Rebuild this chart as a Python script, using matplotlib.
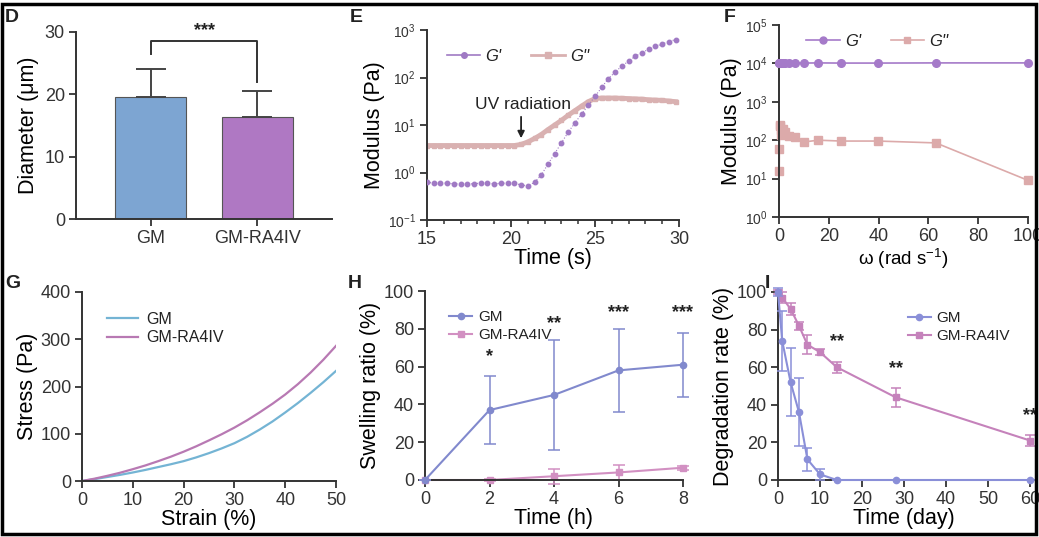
import matplotlib
matplotlib.use("Agg")
import matplotlib.pyplot as plt
from matplotlib.patches import Rectangle
from matplotlib.lines import Line2D
import numpy as np

plt.rcParams['font.family'] = ['Liberation Sans', 'DejaVu Sans']
plt.rcParams['axes.linewidth'] = 1.4
plt.rcParams['xtick.major.width'] = 1.3
plt.rcParams['ytick.major.width'] = 1.3
plt.rcParams['xtick.major.size'] = 5
plt.rcParams['ytick.major.size'] = 5
plt.rcParams['xtick.labelsize'] = 13
plt.rcParams['ytick.labelsize'] = 13
plt.rcParams['axes.edgecolor'] = '#333333'
plt.rcParams['xtick.color'] = '#333333'
plt.rcParams['ytick.color'] = '#333333'
plt.rcParams['text.color'] = '#222222'

# ---------------- data ----------------
# D
d_groups = ["GM", "GM-RA4IV"]
d_mean = [19.5, 16.4]
d_err = [4.6, 4.1]

# E
e_time = [15.0, 15.4, 15.8, 16.2, 16.6, 17.0, 17.4, 17.8, 18.2, 18.6, 19.0, 19.4,
          19.8, 20.2, 20.6, 21.0, 21.4, 21.8, 22.2, 22.6, 23.0, 23.4, 23.8, 24.2,
          24.6, 25.0, 25.4, 25.8, 26.2, 26.6, 27.0, 27.4, 27.8, 28.2, 28.6, 29.0,
          29.4, 29.8]
e_gp = [0.62, 0.60, 0.61, 0.59, 0.58, 0.57, 0.57, 0.58, 0.60, 0.59, 0.58, 0.59,
        0.60, 0.59, 0.55, 0.52, 0.62, 0.88, 1.5, 2.5, 4.2, 7.0, 11, 17,
        26, 40, 62, 95, 130, 175, 220, 280, 335, 395, 450, 510,
        570, 630]
e_gpp = [3.7, 3.7, 3.7, 3.7, 3.7, 3.7, 3.7, 3.7, 3.7, 3.7, 3.7, 3.7,
         3.7, 3.7, 3.9, 4.4, 5.2, 6.3, 8.0, 10, 12.5, 16, 20, 25,
         31, 36, 37, 37, 37, 36.5, 36, 35.5, 35, 34, 33.5, 33,
         32, 31]

# F
f_omega = [0.1, 0.16, 0.25, 0.4, 0.63, 1.0, 1.6, 2.5, 4.0, 6.3, 10, 15.8, 25, 39.8, 63, 100]
f_gp = [10200, 10100, 10300, 10200, 10100, 10200, 10300, 10200, 10200, 10300, 10200,
        10300, 10200, 10200, 10300, 10300]
f_gpp = [16, 60, 230, 250, 180, 140, 200, 160, 130, 120, 90, 100, 95, 95, 85, 9]

# G
g_strain = [0, 2.5, 5, 7.5, 10, 12.5, 15, 17.5, 20, 22.5, 25, 27.5, 30, 32.5, 35,
            37.5, 40, 42.5, 45, 47.5, 50]
g_gm = [0, 4, 8.5, 13, 18, 23.5, 29.5, 35.5, 42, 50, 59, 69, 80, 93.5, 109, 126,
        145, 165, 186.5, 209, 233]
g_ra = [0, 5, 11, 17.5, 25, 33, 42, 51.5, 62, 73.5, 86, 99, 113, 128.5, 145.5,
        163.5, 183, 205, 229.5, 256.5, 286]

# H
h_time = [0, 2, 4, 6, 8]
h_gm = [0, 37, 45, 58, 61]
h_gm_err = [0, 18, 29, 22, 17]
h_ra = [0, 0, 2, 4, 6.5]
h_ra_err = [0, 0.5, 4, 4, 1]
h_stars = ["*", "**", "***", "***"]
h_star_y = [61, 78, 84, 84]

# I
i_day = [0, 1, 3, 5, 7, 10, 14, 28, 60]
i_gm = [100, 74, 52, 36, 11, 3, 0, 0, 0]
i_gm_err = [2, 16, 18, 18, 6, 3, 0, 0, 0]
i_ra = [100, 97, 91, 82, 72, 68, 60, 44, 21]
i_ra_err = [1, 3, 3, 2, 5, 1.5, 3, 5, 3]
i_star_day = [14, 28, 60]
i_star_y = [69, 55, 30]

# ---------------- figure ----------------
W, H = 1039, 537
fig = plt.figure(figsize=(W / 100, H / 100), dpi=100)


def axbox(l, r, t, b):
    return fig.add_axes([l / W, 1 - b / H, (r - l) / W, (b - t) / H])


def style(ax):
    for s in ['top', 'right']:
        ax.spines[s].set_visible(False)
    ax.tick_params(direction='out', pad=3)


LABEL = 15.5
STAR = dict(fontsize=13, fontweight='bold')

# ---- D ----
axD = axbox(76, 332, 32, 219)
style(axD)
xs = np.arange(len(d_groups))
axD.bar(xs, d_mean, width=0.66, color=['#7DA5D2', '#AF78C3'], edgecolor='#555555', linewidth=0.8, zorder=2)
axD.errorbar(xs, d_mean, yerr=[[0, 0], d_err], fmt='none', ecolor='#444444', elinewidth=1.4,
             capsize=11, capthick=1.4, zorder=3)
axD.plot([0, 0, 1, 1], [26.5, 28.6, 28.6, 22.0], color='#333333', lw=1.4, clip_on=False)
axD.text(0.5, 28.9, "***", ha='center', va='bottom', **STAR)
axD.set_xlim(-0.7, 1.7)
axD.set_ylim(0, 30)
axD.set_yticks([0, 10, 20, 30])
axD.set_xticks(xs)
axD.set_xticklabels(d_groups)
axD.set_ylabel("Diameter (μm)", fontsize=LABEL, labelpad=4)

# ---- E ----
cE_gp, cE_gpp = '#A07AC4', '#D9B1B1'
axE = axbox(427, 679, 30, 220)
style(axE)
axE.set_yscale('log')
axE.plot(e_time, e_gpp, color=cE_gpp, lw=3.5, marker='s', ms=2.5, zorder=2)
axE.plot(e_time, e_gp, color=cE_gp, lw=0.8, ls=':', marker='o', ms=3.2, zorder=3)
axE.set_xlim(15, 30)
axE.set_ylim(0.1, 1000)
axE.set_xticks([15, 20, 25, 30])
axE.set_xticks(np.arange(15, 31, 1), minor=True)
axE.tick_params(axis='x', which='minor', length=3, width=1.1)
axE.yaxis.set_minor_locator(matplotlib.ticker.NullLocator())
axE.tick_params(axis='y', labelsize=10)
axE.set_xlabel("Time (s)", fontsize=LABEL, labelpad=0)
axE.set_ylabel("Modulus (Pa)", fontsize=LABEL, labelpad=2)
hE = [Line2D([], [], color=cE_gp, lw=1.2, marker='o', ms=4),
      Line2D([], [], color=cE_gpp, lw=2, marker='s', ms=5)]
axE.legend(hE, ["G'", "G''"], loc='upper left', ncol=2, frameon=False, prop={'style': 'italic', 'size': 12},
           bbox_to_anchor=(0.02, 0.98), handlelength=2.0, columnspacing=1.8, handletextpad=0.3)
axE.annotate("", xy=(20.6, 4.6), xytext=(20.6, 17), arrowprops=dict(arrowstyle='-|>', color='#222222', lw=1.3,
                                                                   mutation_scale=10))
axE.text(20.7, 19, "UV radiation", ha='center', va='bottom', fontsize=12.5)

# ---- F ----
cF_gp, cF_gpp = '#A57AC9', '#DCAAAA'
axF = axbox(779, 1028, 25, 217)
style(axF)
axF.set_yscale('log')
axF.plot(f_omega, f_gp, color=cF_gp, lw=1.2, marker='o', ms=5.5, zorder=3, clip_on=False)
axF.plot(f_omega, f_gpp, color=cF_gpp, lw=1.2, marker='s', ms=5.5, zorder=2, clip_on=False)
axF.set_xlim(0, 100)
axF.set_ylim(1, 1e5)
axF.set_xticks([0, 20, 40, 60, 80, 100])
axF.yaxis.set_minor_locator(matplotlib.ticker.NullLocator())
axF.tick_params(axis='y', labelsize=10)
axF.set_xlabel("ω (rad s$^{\\mathdefault{-1}}$)", fontsize=13.5, labelpad=1)
axF.set_ylabel("Modulus (Pa)", fontsize=LABEL, labelpad=2)
hF = [Line2D([], [], color=cF_gp, lw=1.2, marker='o', ms=5),
      Line2D([], [], color=cF_gpp, lw=1.2, marker='s', ms=5)]
axF.legend(hF, ["G'", "G''"], loc='upper left', ncol=2, frameon=False, prop={'style': 'italic', 'size': 12},
           bbox_to_anchor=(0.05, 1.03), handlelength=2.0, columnspacing=1.8, handletextpad=0.3)

# ---- G ----
axG = axbox(82, 336, 292, 481)
style(axG)
axG.plot(g_strain, g_gm, color='#74B4D4', lw=1.6, label="GM")
axG.plot(g_strain, g_ra, color='#B879B3', lw=1.6, label="GM-RA4IV")
axG.set_xlim(0, 50)
axG.set_ylim(0, 400)
axG.set_xticks([0, 10, 20, 30, 40, 50])
axG.set_yticks([0, 100, 200, 300, 400])
axG.set_xlabel("Strain (%)", fontsize=LABEL, labelpad=0)
axG.set_ylabel("Stress (Pa)", fontsize=LABEL, labelpad=2)
axG.legend(loc='upper left', frameon=False, fontsize=11.5, bbox_to_anchor=(0.04, 0.97),
           handlelength=2.0, handletextpad=0.5, labelspacing=0.2)

# ---- H ----
cH_gm, cH_ra = '#8189CD', '#D290C2'
axH = axbox(425, 683, 291, 480)
style(axH)
axH.errorbar(h_time, h_gm, yerr=h_gm_err, color=cH_gm, lw=1.5, marker='o', ms=4.5,
             capsize=4, elinewidth=1.1, capthick=1.1, clip_on=False, zorder=3)
axH.errorbar(h_time, h_ra, yerr=h_ra_err, color=cH_ra, lw=1.5, marker='s', ms=4.5,
             capsize=4, elinewidth=1.1, capthick=1.1, clip_on=False, zorder=2)
for t, s, y in zip(h_time[1:], h_stars, h_star_y):
    axH.text(t, y, s, ha='center', va='bottom', clip_on=False, **STAR)
axH.set_xlim(0, 8)
axH.set_ylim(0, 100)
axH.set_xticks([0, 2, 4, 6, 8])
axH.set_yticks([0, 20, 40, 60, 80, 100])
axH.set_xlabel("Time (h)", fontsize=LABEL, labelpad=0)
axH.set_ylabel("Swelling ratio (%)", fontsize=LABEL, labelpad=2)
hH = [Line2D([], [], color=cH_gm, lw=1.5, marker='o', ms=4.5),
      Line2D([], [], color=cH_ra, lw=1.5, marker='s', ms=4.5)]
axH.legend(hH, ["GM", "GM-RA4IV"], loc='upper left', frameon=False, fontsize=11, bbox_to_anchor=(0.04, 0.97),
           handlelength=1.5, handletextpad=0.4, labelspacing=0.25)

# ---- I ----
cI_gm, cI_ra = '#8A8FD8', '#C582BB'
axI = axbox(778, 1030, 292, 480)
style(axI)
axI.errorbar(i_day, i_gm, yerr=i_gm_err, color=cI_gm, lw=1.5, marker='o', ms=4.5,
             capsize=3.5, elinewidth=1.1, capthick=1.1, clip_on=False, zorder=3)
axI.errorbar(i_day, i_ra, yerr=i_ra_err, color=cI_ra, lw=1.5, marker='s', ms=4.5,
             capsize=3.5, elinewidth=1.1, capthick=1.1, clip_on=False, zorder=2)
for d, y in zip(i_star_day, i_star_y):
    axI.text(d, y, "**", ha='center', va='bottom', clip_on=False, **STAR)
axI.set_xlim(0, 60)
axI.set_ylim(0, 100)
axI.set_xticks([0, 10, 20, 30, 40, 50, 60])
axI.set_yticks([0, 20, 40, 60, 80, 100])
axI.set_xlabel("Time (day)", fontsize=LABEL, labelpad=0)
axI.set_ylabel("Degradation rate (%)", fontsize=LABEL, labelpad=2)
hI = [Line2D([], [], color=cI_gm, lw=1.5, marker='o', ms=4.5),
      Line2D([], [], color=cI_ra, lw=1.5, marker='s', ms=4.5)]
axI.legend(hI, ["GM", "GM-RA4IV"], loc='upper left', frameon=False, fontsize=11, bbox_to_anchor=(0.46, 0.97),
           handlelength=1.5, handletextpad=0.4, labelspacing=0.25)

# ---- panel letters ----
for letter, x, y in [("D", 5, 18), ("E", 350, 17), ("F", 724, 17),
                     ("G", 5, 283), ("H", 348, 283), ("I", 765, 283)]:
    fig.text(x / W, 1 - y / H, letter, fontsize=14, fontweight='bold', va='center', ha='left')

fig.add_artist(Rectangle((1.5 / W, 3 / H), (W - 5) / W, (H - 7) / H, transform=fig.transFigure,
                         fill=False, lw=2.5, edgecolor='black'))

fig.savefig("out.png", dpi=100)
